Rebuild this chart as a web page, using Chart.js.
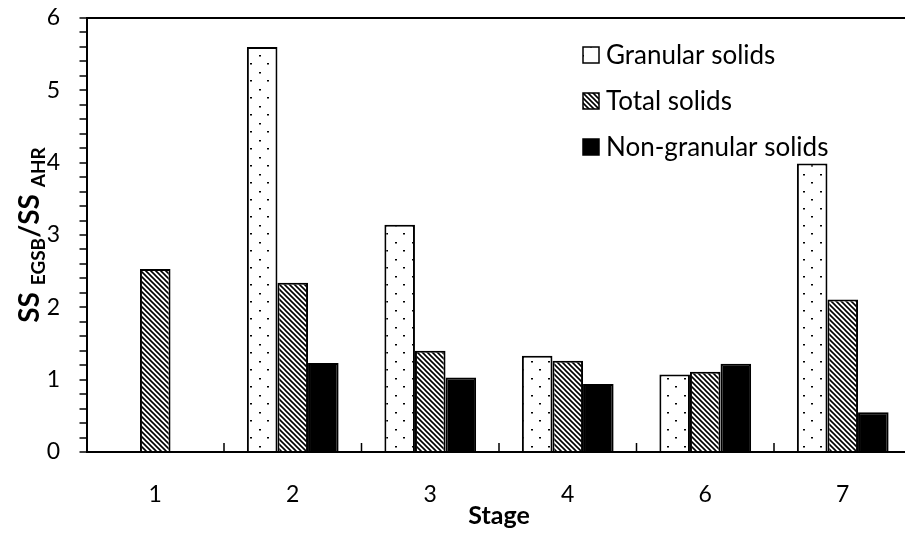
<!DOCTYPE html>
<html>
<head>
<meta charset="utf-8">
<script src="https://cdn.jsdelivr.net/npm/chart.js@4.4.0/dist/chart.umd.min.js"></script>
<style>
  html, body { margin: 0; padding: 0; background: #fff; overflow: hidden; width: 905px; height: 535px; }
  #wrap { position: relative; width: 925px; height: 535px; }
</style>
</head>
<body>
<div id="wrap"><canvas id="chart-one" width="925" height="535"></canvas></div>
<script>
// data
const stages = ['1', '2', '3', '4', '6', '7'];
const granular = [null, 5.6, 3.14, 1.33, 1.07, 3.99];
const total = [2.53, 2.34, 1.40, 1.26, 1.11, 2.11];
const nonGranular = [null, 1.23, 1.03, 0.94, 1.22, 0.55];
const seriesNames = ['Granular solids', 'Total solids', 'Non-granular solids'];
const yTicks = [0, 1, 2, 3, 4, 5, 6];
const yMinorStep = 0.2;

// fill patterns
function dotPattern() {
  const c = document.createElement('canvas');
  c.width = 17; c.height = 17;
  const g = c.getContext('2d');
  g.fillStyle = '#fff';
  g.fillRect(0, 0, 17, 17);
  g.fillStyle = '#000';
  g.fillRect(4, 4, 2, 1.5);
  g.fillRect(12, 12, 2, 1.5);
  return g.createPattern(c, 'repeat');
}

function hatchPattern() {
  const s = 5;
  const c = document.createElement('canvas');
  c.width = s; c.height = s;
  const g = c.getContext('2d');
  g.fillStyle = '#fff';
  g.fillRect(0, 0, s, s);
  g.strokeStyle = '#000';
  g.lineWidth = 1.6;
  g.beginPath();
  g.moveTo(-1, -1); g.lineTo(s + 1, s + 1);
  g.moveTo(-1, s - 1); g.lineTo(1, s + 1);
  g.moveTo(s - 1, -1); g.lineTo(s + 1, 1);
  g.stroke();
  return g.createPattern(c, 'repeat');
}

const fills = [dotPattern(), hatchPattern(), '#000'];

// ticks on the x axis point up, between the categories
const innerTicks = {
  id: 'innerTicks',
  afterDatasetsDraw(chart) {
    const x = chart.scales.x, ctx = chart.ctx;
    const y0 = chart.chartArea.bottom;
    ctx.save();
    ctx.strokeStyle = '#000';
    ctx.lineWidth = 1.5;
    ctx.beginPath();
    for (let i = 0; i < stages.length - 1; i++) {
      const px = (x.getPixelForValue(i) + x.getPixelForValue(i + 1)) / 2;
      ctx.moveTo(px, y0);
      ctx.lineTo(px, y0 - 9);
    }
    ctx.stroke();
    ctx.restore();
  }
};

// legend inside the plot, stacked
const boxLegend = {
  id: 'boxLegend',
  afterDraw(chart) {
    const ctx = chart.ctx;
    ctx.save();
    ctx.font = '26px Lato';
    ctx.textBaseline = 'alphabetic';
    seriesNames.forEach((name, i) => {
      const base = 64 + i * 46;
      ctx.fillStyle = fills[i];
      ctx.fillRect(583, base - 17, 16, 16);
      ctx.strokeStyle = '#000';
      ctx.lineWidth = 1.5;
      ctx.strokeRect(583, base - 17, 16, 16);
      ctx.fillStyle = '#000';
      ctx.fillText(name, 606, base);
    });
    ctx.restore();
  }
};

// y title with subscripts
const yTitle = {
  id: 'yTitle',
  afterDraw(chart) {
    const ctx = chart.ctx;
    const parts = [
      ['SS', 28, 0], [' ', 28, 0], ['EGSB', 19, 6],
      ['/SS', 28, 0], [' ', 28, 0], ['AHR', 19, 6]
    ];
    ctx.save();
    let w = 0;
    parts.forEach(p => { ctx.font = 'bold ' + p[1] + 'px Lato'; w += ctx.measureText(p[0]).width; });
    const cy = (chart.chartArea.top + chart.chartArea.bottom) / 2;
    ctx.translate(39, cy);
    ctx.rotate(-Math.PI / 2);
    ctx.fillStyle = '#000';
    ctx.textBaseline = 'alphabetic';
    let x = -w / 2;
    parts.forEach(p => {
      ctx.font = 'bold ' + p[1] + 'px Lato';
      ctx.fillText(p[0], x, p[2]);
      x += ctx.measureText(p[0]).width;
    });
    ctx.restore();
  }
};

const ctx = document.getElementById('chart-one').getContext('2d');

const chart = new Chart(ctx, {
  type: 'bar',
  data: {
    labels: stages,
    datasets: [
      { label: seriesNames[0], data: granular, backgroundColor: fills[0], borderColor: '#000', borderWidth: 2 },
      { label: seriesNames[1], data: total, backgroundColor: fills[1], borderColor: '#000', borderWidth: 2 },
      { label: seriesNames[2], data: nonGranular, backgroundColor: fills[2], borderColor: '#000', borderWidth: 2 }
    ]
  },
  options: {
    responsive: false,
    animation: false,
    categoryPercentage: 0.667,
    barPercentage: 1,
    layout: { padding: { top: 18, right: 13.5, bottom: 0, left: 0 } },
    plugins: {
      legend: { display: false },
      tooltip: { enabled: false }
    },
    scales: {
      x: {
        grid: { display: false },
        border: { color: '#000', width: 2 },
        ticks: { color: '#000', font: { family: 'Lato', size: 23 }, padding: 21 },
        title: {
          display: true, text: 'Stage', color: '#000',
          font: { family: 'Lato', size: 25, weight: 'bold' },
          padding: { top: 0, bottom: 4 }
        },
        afterFit(s) { s.height = 83; }
      },
      y: {
        min: 0, max: 6,
        border: { color: '#000', width: 2 },
        grid: {
          color: c => (c.tick && Math.abs(c.tick.value - 6) < 1e-6) ? '#000' : 'rgba(0,0,0,0)',
          lineWidth: 2,
          tickColor: '#000',
          tickWidth: 1.5,
          tickLength: 7
        },
        ticks: {
          autoSkip: false,
          source: 'data',
          maxTicksLimit: 100,
          color: '#000',
          font: { family: 'Lato', size: 23 },
          padding: 19.5,
          callback: v => {
            const r = Math.round(v * 1000) / 1000;
            return yTicks.includes(r) ? String(r) : '';
          }
        },
        afterBuildTicks(s) {
          const t = [];
          const n = Math.round((s.max - s.min) / yMinorStep);
          for (let i = 0; i <= n; i++) t.push({ value: Math.round((s.min + i * yMinorStep) * 1000) / 1000 });
          s.ticks = t;
        },
        afterFit(s) { s.width = 86.5; s.paddingTop = 0; s.paddingBottom = 0; }
      }
    }
  },
  plugins: [innerTicks, boxLegend, yTitle]
});
</script>
</body>
</html>
